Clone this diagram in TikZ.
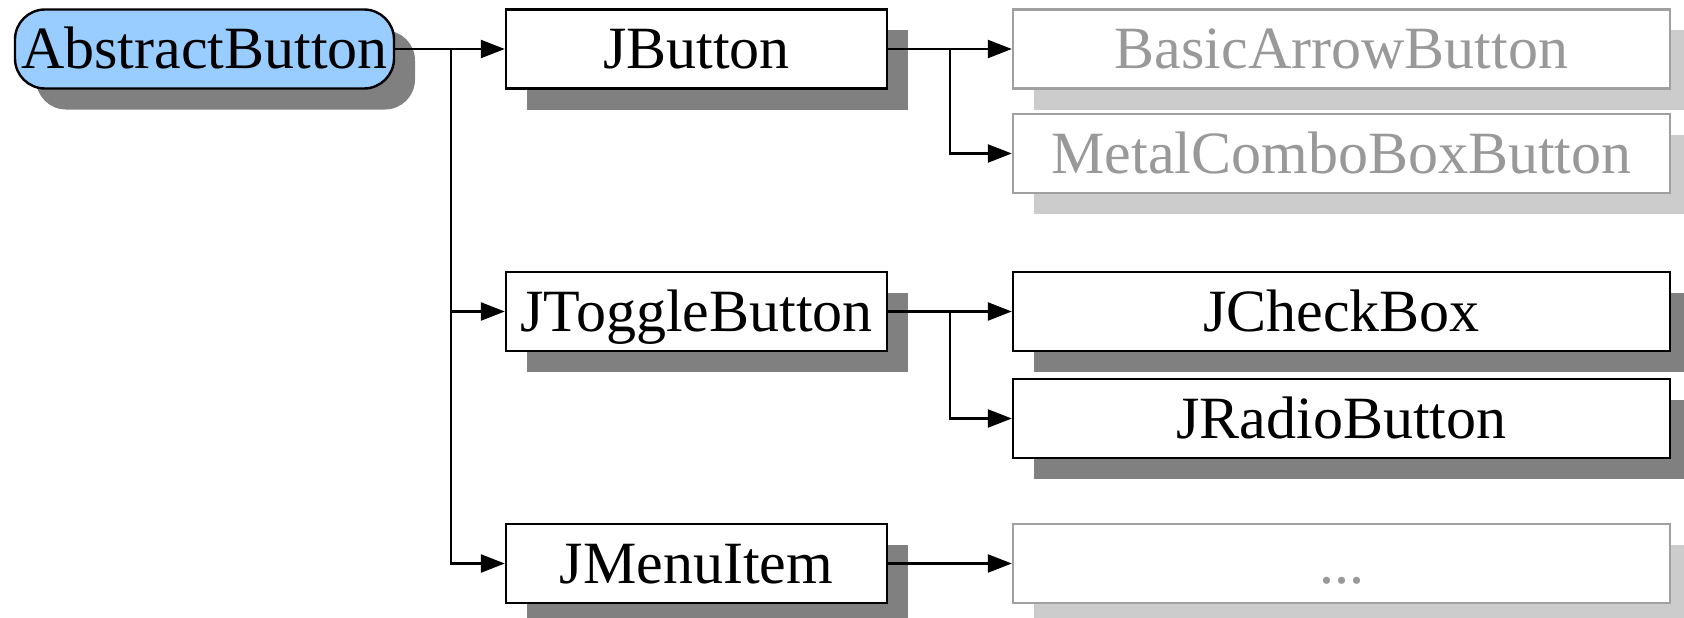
\documentclass[tikz,border=0pt]{standalone}
\usepackage{fontspec}
\setmainfont{Liberation Serif}
\usetikzlibrary{shadows,arrows.meta}
\definecolor{abfill}{HTML}{99CCFF}
\definecolor{shdark}{HTML}{808080}
\definecolor{shlight}{HTML}{CCCCCC}
\definecolor{greytext}{HTML}{999999}
\definecolor{greyline}{HTML}{A0A0A0}
\begin{document}
\begin{tikzpicture}[x=1pt,y=-1pt,
  base/.style={draw, line width=2.4pt, minimum height=79pt, inner sep=0pt,
    text height=39.5pt, text depth=0pt, font=\fontsize{60}{72}\selectfont, fill=white},
  darkshadow/.style={drop shadow={shadow xshift=21pt, shadow yshift=-21pt, fill=shdark, opacity=1}},
  lightshadow/.style={drop shadow={shadow xshift=21pt, shadow yshift=-21pt, fill=shlight, opacity=1}},
  cls/.style={base, darkshadow, minimum width=381pt},
  wide/.style={base, darkshadow, minimum width=657pt},
  ghost/.style={base, lightshadow, minimum width=657pt, draw=greyline, text=greytext},
  root/.style={base, darkshadow, minimum width=379pt, rounded corners=30pt, fill=abfill},
  arr/.style={line width=2.4pt, -{Triangle[length=24pt,width=18pt]}}
]
\useasboundingbox (0,0) rectangle (1684,618);
\clip (0,0) rectangle (1684,618);

\node[root]  (AB)   at (204.5,49)   {AbstractButton};
\node[cls]   (JB)   at (696.5,49)   {JButton};
\node[ghost] (BAB)  at (1341.5,49)  {BasicArrowButton};
\node[ghost] (MCB)  at (1341.5,153.5) {MetalComboBoxButton};
\node[cls]   (JTB)  at (696.5,311.5) {JToggleButton};
\node[wide]  (JCB)  at (1341.5,311.5) {JCheckBox};
\node[wide]  (JRB)  at (1341.5,418.5) {JRadioButton};
\node[cls]   (JMI)  at (696.5,563.5) {JMenuItem};
\node[ghost] (DOTS) at (1341.5,563.5) {...};

\coordinate (t1) at (451,49);
\coordinate (t2) at (950,49);
\coordinate (t3) at (950,311.5);

\draw[arr] (AB.east) -- (JB.west);
\draw[arr] (t1) |- (JTB.west);
\draw[arr] (t1) |- (JMI.west);
\draw[arr] (JB.east) -- (BAB.west);
\draw[arr] (t2) |- (MCB.west);
\draw[arr] (JTB.east) -- (JCB.west);
\draw[arr] (t3) |- (JRB.west);
\draw[arr] (JMI.east) -- (DOTS.west);
\end{tikzpicture}
\end{document}
